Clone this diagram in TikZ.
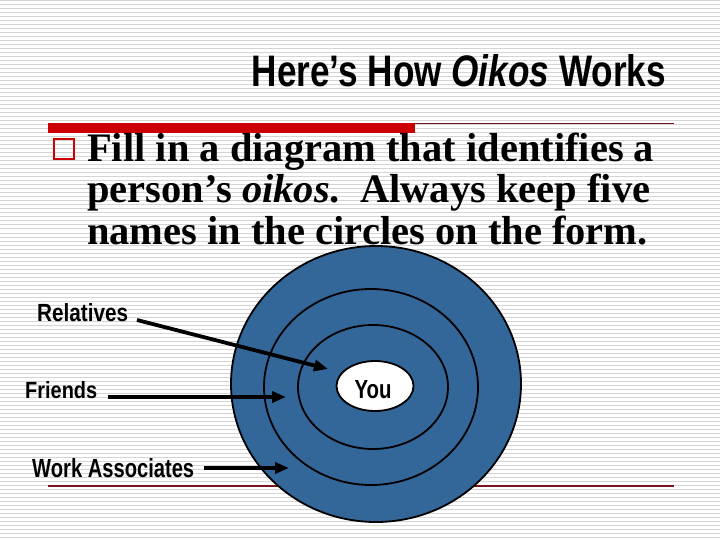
\documentclass[tikz,border=0pt]{standalone}
\usepackage{fontspec}
\usepackage{graphicx}
\setmainfont{Liberation Serif}
\newfontfamily\condfont{Liberation Sans}
\usetikzlibrary{shapes.geometric,arrows.meta}
\definecolor{stripe}{RGB}{212,212,212}
\definecolor{barred}{RGB}{204,0,0}
\definecolor{linered}{RGB}{120,20,30}
\definecolor{ringblue}{RGB}{51,102,153}
\newcommand\condtext[3]{\resizebox{#1}{#2}{\condfont\bfseries #3}}
\tikzset{
  ring/.style={ellipse, draw=black, line width=1.8pt, fill=ringblue, inner sep=0pt},
  label/.style={anchor=base west, inner sep=0pt},
  bodytext/.style={anchor=base west, inner sep=0pt, font=\fontsize{40.5pt}{41pt}\selectfont\bfseries},
  pointer/.style={line width=3.8pt, -{Triangle[length=14pt,width=11pt]}},
}
\begin{document}
\begin{tikzpicture}[x=1pt,y=-1pt]
\useasboundingbox (0,0) rectangle (720,540);
\fill[white] (0,0) rectangle (720,540);
% background stripes
\foreach \yy in {1,5,...,540} {
  \draw[stripe, line width=1pt] (0,\yy) -- (720,\yy);
}
% rules
\fill[barred] (48,123) rectangle (415,133);
\draw[linered, line width=1.2pt] (415,123.5) -- (674,123.5);
\draw[linered, line width=1.2pt] (48,486) -- (674,486);
% title
\node[anchor=base east, inner sep=0pt] (title) at (666,87)
  {\condtext{414pt}{32pt}{Here’s How \textit{Oikos} Works}};
% bullet
\node[draw=barred, line width=1.8pt, minimum size=20pt, inner sep=0pt] (box) at (64,149) {};
% circles
\node[ring, minimum width=290pt, minimum height=276pt] (outer) at (376,384) {};
\node[ring, minimum width=214pt, minimum height=196pt] (middle) at (371,387) {};
\node[ring, minimum width=150pt, minimum height=124pt] (inner) at (373,387) {};
\node[ellipse, draw=black, line width=1.8pt, fill=white, minimum width=77pt, minimum height=50pt, inner sep=0pt] (core) at (375,386) {};
\node[anchor=base, inner sep=0pt] (you) at (373,398) {\condtext{37pt}{18pt}{You}};
% body text
\node[bodytext] (l1) at (87,162) {Fill in a diagram that identifies a};
\node[bodytext] (l2) at (87,203) {person’s \textit{oikos}.\ \ Always keep five};
\node[bodytext] (l3) at (87,244) {names in the circles on the form.};
% labels
\node[label] (rel) at (37,321) {\condtext{91pt}{18pt}{Relatives}};
\node[label] (fri) at (25,398) {\condtext{72pt}{17pt}{Friends}};
\node[label] (work) at (32,477) {\condtext{162pt}{19pt}{Work Associates}};
% arrow ends
\coordinate (relS) at (137,320);
\coordinate (relE) at (328,369);
\coordinate (friS) at (108,397);
\coordinate (friE) at (286,397);
\coordinate (workS) at (204,468);
\coordinate (workE) at (289,468);
\draw[pointer] (relS) -- (relE);
\draw[pointer] (friS) -- (friE);
\draw[pointer] (workS) -- (workE);
\end{tikzpicture}
\end{document}
